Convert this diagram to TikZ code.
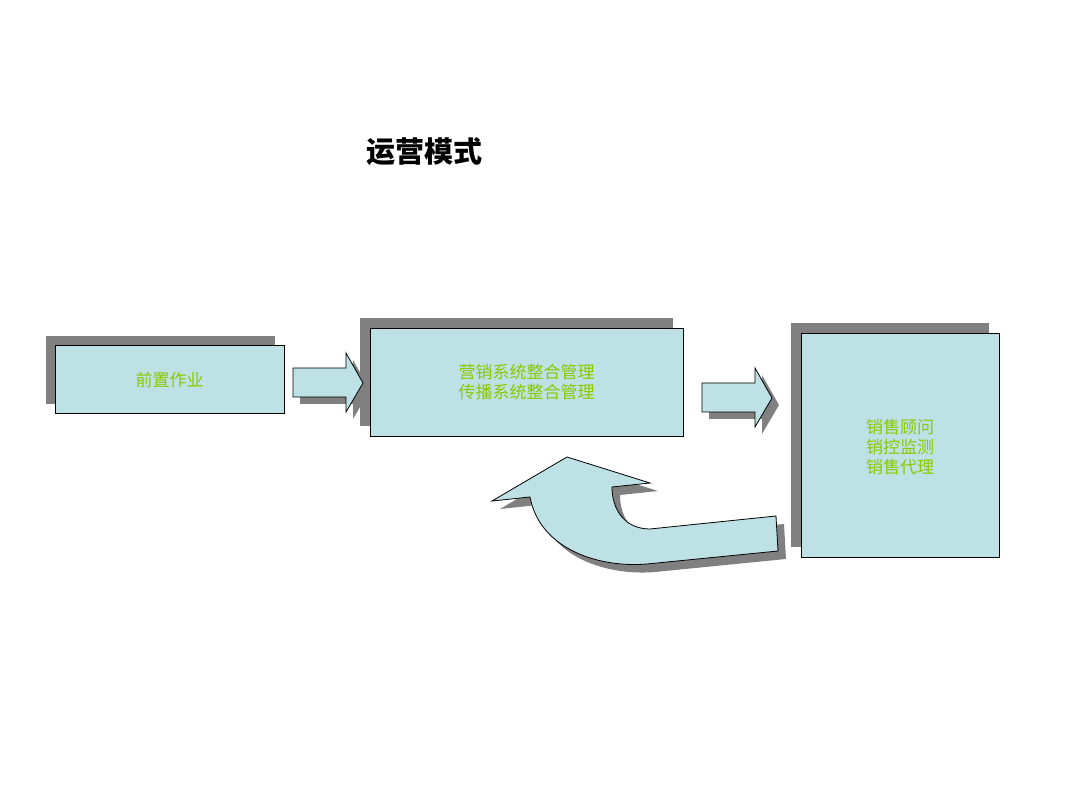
\documentclass[tikz,border=0pt]{standalone}
\usepackage{fontspec}
\setmainfont{Noto Sans CJK SC}
\definecolor{boxfill}{RGB}{189,225,229}
\definecolor{txtgreen}{RGB}{140,200,0}
\definecolor{shade}{RGB}{128,128,128}
\tikzset{
  shadowbox/.style={fill=shade, draw=none},
  cardbox/.style={draw=black, fill=boxfill, line width=0.8pt},
  label/.style={text=txtgreen, font=\fontsize{17}{20}\selectfont, align=center}
}
\begin{document}
\begin{tikzpicture}[x=1pt, y=-1pt]
    \useasboundingbox (0,0) rectangle (1080,810);
    % Title
    \node[font=\bfseries\fontsize{29}{34}\selectfont] (title) at (424,152) {运营模式};

    % Boxes with shadows
    \fill[shadowbox] (46,336) rectangle (275,404);
    \draw[cardbox] (55,345) rectangle (284,413);
    \node[label] (pre) at (169.5,380) {前置作业};

    \fill[shadowbox] (360,318) rectangle (673,426);
    \draw[cardbox] (370,328) rectangle (683,436);
    \node[label] (mid) at (526.5,382) {营销系统整合管理\\传播系统整合管理};

    \fill[shadowbox] (791,323) rectangle (989,547);
    \draw[cardbox] (801,333) rectangle (999,557);
    \node[label] (sales) at (900,447) {销售顾问\\销控监测\\销售代理};

    % Block arrows
    \fill[shadowbox, shift={(7,7)}] (293,368) -- (346,368) -- (346,353) -- (363,383) -- (346,412) -- (346,397) -- (293,397) -- cycle;
    \draw[cardbox] (293,368) -- (346,368) -- (346,353) -- (363,383) -- (346,412) -- (346,397) -- (293,397) -- cycle;
    \fill[shadowbox, shift={(7,7)}] (702,383) -- (755,383) -- (755,368) -- (772,398) -- (755,427) -- (755,412) -- (702,412) -- cycle;
    \draw[cardbox] (702,383) -- (755,383) -- (755,368) -- (772,398) -- (755,427) -- (755,412) -- (702,412) -- cycle;

    % Curved return arrow
    \fill[shadowbox, shift={(8,8)}] (567,457) -- (650,483) -- (612,487) .. controls (612,510) and (625,529) .. (650,529) -- (776,516) -- (778,551) -- (647,564) .. controls (600,568) and (540,550) .. (530,497) -- (492,501) -- cycle;
    \draw[cardbox] (567,457) -- (650,483) -- (612,487) .. controls (612,510) and (625,529) .. (650,529) -- (776,516) -- (778,551) -- (647,564) .. controls (600,568) and (540,550) .. (530,497) -- (492,501) -- cycle;
\end{tikzpicture}
\end{document}
